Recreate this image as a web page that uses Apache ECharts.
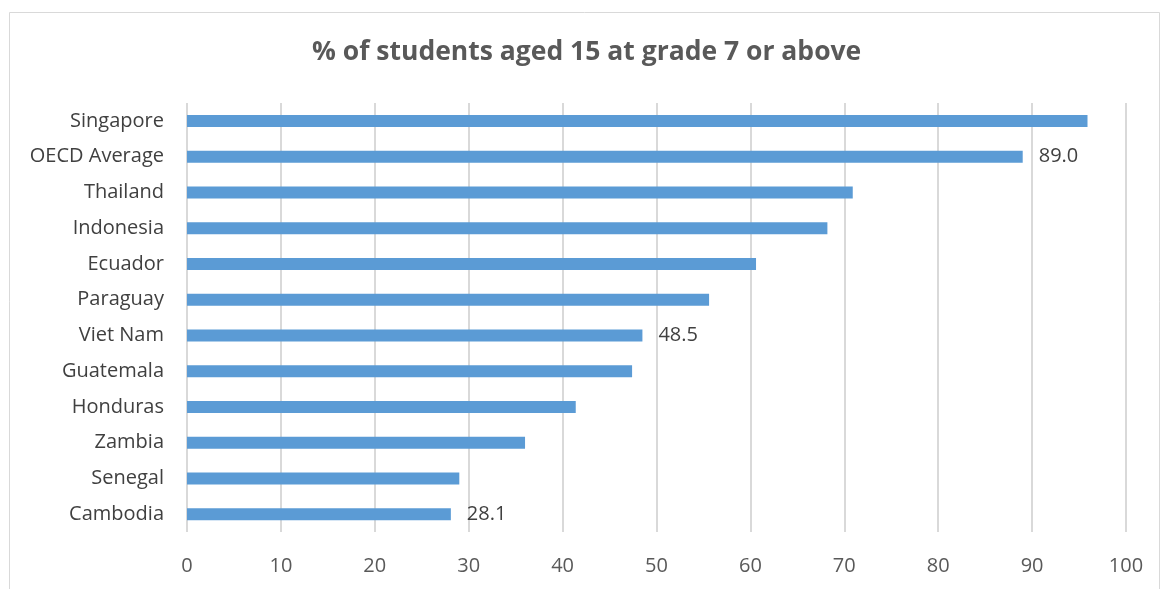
<!DOCTYPE html>
<html><head><meta charset="utf-8">
<script src="https://cdn.jsdelivr.net/npm/echarts@6/dist/echarts.min.js"></script>
<style>html,body{margin:0;padding:0;background:#fff}#c{width:1162px;height:589px}</style>
</head><body><div id="c"></div>
<script>
const categories = ["Singapore","OECD Average","Thailand","Indonesia","Ecuador","Paraguay","Viet Nam","Guatemala","Honduras","Zambia","Senegal","Cambodia"];
const values = [95.9,89.0,70.9,68.2,60.6,55.6,48.5,47.4,41.4,36.0,29.0,28.1];
const labelled = ["OECD Average","Viet Nam","Cambodia"];
const xTicks = [0,10,20,30,40,50,60,70,80,90,100];
const titleText = "% of students aged 15 at grade 7 or above";

const font = "'Open Sans', 'Noto Sans', sans-serif";
const chart = echarts.init(document.getElementById('c'), null, {renderer:'canvas'});
chart.setOption({
  animation:false,
  backgroundColor:'#fff',
  graphic:[{type:'rect',left:7,top:10,shape:{width:1150,height:600},style:{fill:'none',stroke:'#d9d9d9',lineWidth:1},silent:true}],
  title:{text:titleText,left:307,top:34,textStyle:{fontFamily:font,fontSize:26.5,fontWeight:'bold',color:'#595959'}},
  grid:{left:187,right:36,top:103,bottom:57,containLabel:false},
  xAxis:{type:'value',min:xTicks[0],max:xTicks[xTicks.length-1],interval:10,
    axisLine:{show:false},axisTick:{show:false},
    splitLine:{show:true,lineStyle:{color:'#d9d9d9',width:2}},
    axisLabel:{margin:24,fontFamily:font,fontSize:20,color:'#595959'}},
  yAxis:{type:'category',data:categories.slice().reverse(),
    axisLine:{show:false},axisTick:{show:false},
    axisLabel:{margin:23,fontFamily:font,fontSize:20,color:'#404040'}},
  series:[{type:'bar',barWidth:12,
    data:values.slice().reverse().map((v,i)=>{
      const name = categories.slice().reverse()[i];
      return {value:v,label:{show:labelled.includes(name)}};
    }),
    itemStyle:{color:'#5b9bd5'},
    label:{position:'right',distance:16,fontFamily:font,fontSize:20,color:'#404040',formatter:p=>p.value.toFixed(1)}
  }]
});
</script></body></html>
